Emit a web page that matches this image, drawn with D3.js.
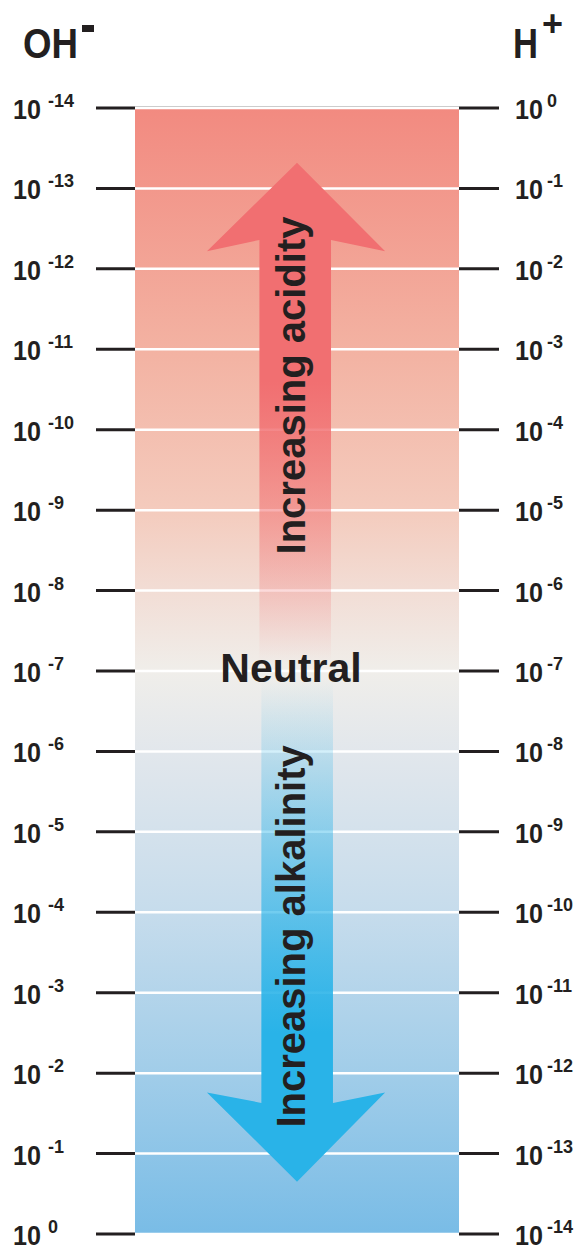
<!DOCTYPE html>
<html><head><meta charset="utf-8">
<script src="https://cdn.jsdelivr.net/npm/d3@7"></script>
<style>
html,body{margin:0;padding:0;background:#fff;}
svg{display:block;}
text{font-family:"Liberation Sans",Arial,Helvetica,sans-serif;font-weight:bold;fill:#231F20;}
</style></head>
<body>
<svg id="chart" width="585" height="1246"></svg>
<script>
// pH positions 0..14 (top = acidic)
const phSteps = [0,1,2,3,4,5,6,7,8,9,10,11,12,13,14];
const ohExponents = ["-14","-13","-12","-11","-10","-9","-8","-7","-6","-5","-4","-3","-2","-1","0"];
const hExponents  = ["0","-1","-2","-3","-4","-5","-6","-7","-8","-9","-10","-11","-12","-13","-14"];
const headers = ["OH","H"];
const headerSups = ["-","+"];
const gradientPh = [0, 3, 5, 6, 7, 8, 10, 12, 14];
const gradientColors = ["#F28A80","#F3B2A2","#F4CBBD","#F2DDD5","#F0EEEA","#E2E7EC","#C6DCEC","#A1CDE9","#79BCE6"];
const arrowLabels = ["Increasing acidity","Increasing alkalinity"];
const neutralLabel = "Neutral";

const svg = d3.select("#chart");
const y = d3.scaleLinear().domain([0,14]).range([108,1234]);
const x = d3.scaleLinear().domain([0,1]).range([135,459]);
const ink = "#231F20";

const defs = svg.append("defs");
const bg = defs.append("linearGradient").attr("id","bg").attr("gradientUnits","userSpaceOnUse")
  .attr("x1",0).attr("x2",0).attr("y1",y(0)).attr("y2",y(14));
gradientPh.forEach((p,i)=>bg.append("stop").attr("offset",(p/14)).attr("stop-color",gradientColors[i]));

// bar
svg.append("rect").attr("x",x(0)).attr("y",y(0)).attr("width",x(1)-x(0)).attr("height",y(14)-y(0))
  .attr("fill","url(#bg)");

// white grid lines
svg.append("g").selectAll("line").data(phSteps).join("line")
  .attr("x1",x(0)).attr("x2",x(1)).attr("y1",d=>y(d)).attr("y2",d=>y(d))
  .attr("stroke","#fff").attr("stroke-width",2.5);
svg.append("line").attr("x1",x(0)).attr("x2",x(1)).attr("y1",y(0)-1.5).attr("y2",y(0)-1.5)
  .attr("stroke","#ccc").attr("stroke-width",1);

// ticks
const ticks = svg.append("g");
ticks.selectAll("line.l").data(phSteps).join("line").attr("class","l")
  .attr("x1",96).attr("x2",x(0)).attr("y1",d=>y(d)).attr("y2",d=>y(d))
  .attr("stroke",ink).attr("stroke-width",3);
ticks.selectAll("line.r").data(phSteps).join("line").attr("class","r")
  .attr("x1",x(1)).attr("x2",499).attr("y1",d=>y(d)).attr("y2",d=>y(d))
  .attr("stroke",ink).attr("stroke-width",3);

// labels
function labels(xBase, supDx, exps){
  const g = svg.append("g");
  g.selectAll("text.b").data(phSteps).join("text").attr("class","b")
    .attr("x",xBase).attr("y",d=>y(d)+11).attr("font-size",28)
    .attr("textLength",28).attr("lengthAdjust","spacingAndGlyphs").text("10");
  g.selectAll("text.s").data(phSteps).join("text").attr("class","s")
    .attr("x",xBase+28+supDx).attr("y",d=>y(d)-1).attr("font-size",18)
    .text((d,i)=>exps[i]);
}
labels(13, 7, ohExponents);
labels(515, 4, hExponents);

// headers
svg.append("text").attr("x",23).attr("y",58).attr("font-size",43)
  .attr("textLength",55).attr("lengthAdjust","spacingAndGlyphs").text(headers[0]);
svg.append("rect").attr("x",82).attr("y",25).attr("width",12).attr("height",7).attr("fill",ink);
svg.append("text").attr("x",513).attr("y",58).attr("font-size",43)
  .attr("textLength",25).attr("lengthAdjust","spacingAndGlyphs").text(headers[1]);
svg.append("text").attr("x",542).attr("y",36).attr("font-size",36).text(headerSups[1]);

// arrows
const upG = defs.append("linearGradient").attr("id","upG").attr("gradientUnits","userSpaceOnUse")
  .attr("x1",0).attr("x2",0).attr("y1",y(3.4)).attr("y2",y(6.9));
upG.append("stop").attr("offset",0).attr("stop-color","#F16F71").attr("stop-opacity",1);
upG.append("stop").attr("offset",0.45).attr("stop-color","#F16F71").attr("stop-opacity",0.55);
upG.append("stop").attr("offset",1).attr("stop-color","#F16F71").attr("stop-opacity",0);
const dnG = defs.append("linearGradient").attr("id","dnG").attr("gradientUnits","userSpaceOnUse")
  .attr("x1",0).attr("x2",0).attr("y1",y(7.1)).attr("y2",y(11.5));
dnG.append("stop").attr("offset",0).attr("stop-color","#29B3E8").attr("stop-opacity",0);
dnG.append("stop").attr("offset",0.4).attr("stop-color","#29B3E8").attr("stop-opacity",0.4);
dnG.append("stop").attr("offset",1).attr("stop-color","#29B3E8").attr("stop-opacity",1);

const line = d3.line();
const cx = x(0.5);
// up arrow
svg.append("path").attr("fill","url(#upG)").attr("d", line([
  [cx, y(0.68)], [x(0.772), y(1.78)], [x(0.605), y(1.64)], [x(0.605), y(7)],
  [x(0.384), y(7)], [x(0.384), y(1.64)], [x(0.222), y(1.78)]
])+"Z");
// down arrow
svg.append("path").attr("fill","url(#dnG)").attr("d", line([
  [cx, y(13.35)], [x(0.772), y(12.24)], [x(0.611), y(12.37)], [x(0.611), y(7)],
  [x(0.39), y(7)], [x(0.39), y(12.37)], [x(0.222), y(12.24)]
])+"Z");

// arrow labels
svg.append("text").attr("transform",`translate(305,${y(3.45)}) rotate(-90)`)
  .attr("text-anchor","middle").attr("font-size",40).text(arrowLabels[0]);
svg.append("text").attr("transform",`translate(305,${y(10.3)}) rotate(-90)`)
  .attr("text-anchor","middle").attr("font-size",40).text(arrowLabels[1]);

svg.append("text").attr("x",291).attr("y",682).attr("text-anchor","middle")
  .attr("font-size",41).text(neutralLabel);
</script>
</body></html>
